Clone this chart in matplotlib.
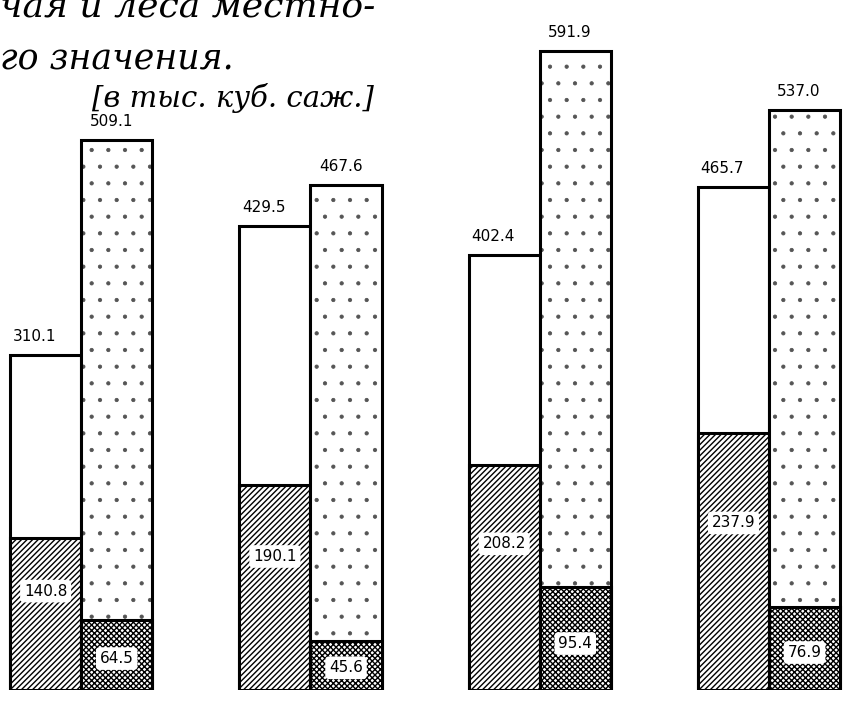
import matplotlib.pyplot as plt
import numpy as np

# values in thousand cubic sazhens, 4 groups of two bars
left_total = [310.1, 429.5, 402.4, 465.7]
left_part = [140.8, 190.1, 208.2, 237.9]
right_total = [509.1, 467.6, 591.9, 537.0]
right_part = [64.5, 45.6, 95.4, 76.9]

title_lines = ["чая и леса местно-", "го значения."]
unit_line = "[в тыс. куб. саж.]"

fig = plt.figure(figsize=(8.44, 7.04), dpi=100)
ax = fig.add_axes([0, 0.02, 1, 0.98])

x = np.arange(len(left_total))
w = 0.31

plt.rcParams['hatch.linewidth'] = 1.0
ax.bar(x - w, left_total, w, align='edge', color='white', edgecolor='black', linewidth=2.2)
ax.bar(x - w, left_part, w, align='edge', color='white', edgecolor='black', linewidth=2.2,
       hatch='//////')

# sparse stipple: light hatch, outline drawn on top
plt.rcParams['hatch.linewidth'] = 0.6
ax.bar(x, right_total, w, align='edge', color='white', edgecolor='#555555', linewidth=0,
       hatch='.')
ax.bar(x, right_total, w, align='edge', fill=False, edgecolor='black', linewidth=2.2)
plt.rcParams['hatch.linewidth'] = 1.0
ax.bar(x, right_part, w, align='edge', color='white', edgecolor='black', linewidth=2.2,
       hatch='xxxxxx')

num_font = dict(fontsize=11, family='DejaVu Sans', color='black')
box = dict(boxstyle='round,pad=0.25', facecolor='white', edgecolor='none')

for i in range(len(x)):
    ax.annotate(f"{left_total[i]:.1f}", (x[i] - w, left_total[i]), xytext=(2, 8),
                textcoords='offset points', ha='left', va='bottom', **num_font)
    ax.annotate(f"{right_total[i]:.1f}", (x[i], right_total[i]), xytext=(6, 8),
                textcoords='offset points', ha='left', va='bottom', **num_font)
    ax.text(x[i] - w / 2, left_part[i] * 0.65, f"{left_part[i]:.1f}", ha='center',
            va='center', bbox=box, **num_font)
    ax.text(x[i] + w / 2, right_part[i] * 0.45, f"{right_part[i]:.1f}", ha='center',
            va='center', bbox=box, **num_font)

ax.set_xlim(-0.354, 3.327)
ax.set_ylim(0, 639)
ax.axis('off')

fig.text(0.0, 1 - 17 / 704, title_lines[0], fontsize=26, family='DejaVu Serif',
         style='italic', ha='left', va='baseline')
fig.text(0.0, 1 - 70 / 704, title_lines[1], fontsize=25, family='DejaVu Serif',
         style='italic', ha='left', va='baseline')
fig.text(92 / 844, 1 - 107 / 704, unit_line, fontsize=21, family='DejaVu Serif',
         style='italic', ha='left', va='baseline')

fig.savefig('out.png', dpi=100)
